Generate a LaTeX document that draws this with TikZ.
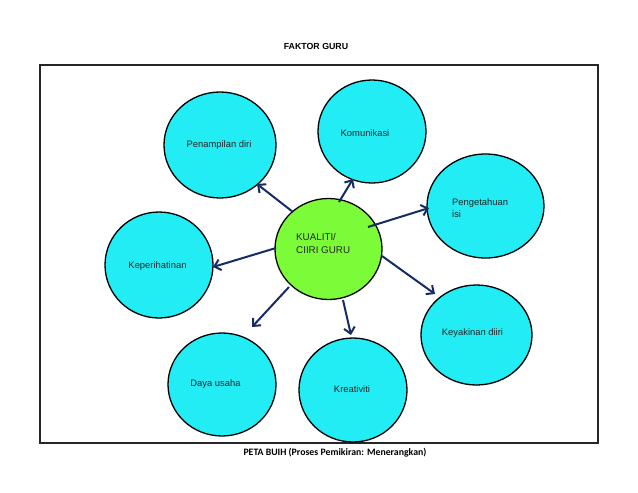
\documentclass[tikz,border=0pt]{standalone}
\usepackage{fontspec}
\setmainfont{Liberation Sans}
\newfontfamily\calibri{Carlito}
\usetikzlibrary{arrows.meta,shapes.geometric}
\definecolor{bubcyan}{RGB}{34,236,244}
\definecolor{bubgreen}{RGB}{124,252,56}
\definecolor{arrnavy}{RGB}{22,42,102}
\tikzset{
  bubble/.style={ellipse, draw=black, line width=1.3pt, inner sep=0pt},
  lbl/.style={font=\fontsize{9.4}{11.5}\selectfont, inner sep=0pt, text=black!85},
  conn/.style={draw=arrnavy, line width=2pt, -{Straight Barb[length=6pt,width=11pt,line width=2pt]}}
}
\begin{document}
\begin{tikzpicture}[x=1pt,y=-1pt]
\useasboundingbox (0,0) rectangle (638,493);
\node[font=\bfseries\fontsize{8.8}{10}\selectfont, inner sep=0pt] (title) at (316,46) {FAKTOR GURU};
\draw[line width=1.4pt, black!85] (40,65) rectangle (598,443);
\node[font=\calibri\bfseries\fontsize{9.8}{11}\selectfont, inner sep=0pt] (foot) at (335,453) {PETA BUIH (Proses Pemikiran: Menerangkan)};

\node[bubble, fill=bubcyan, minimum width=112pt, minimum height=106pt] (pen) at (220,145) {};
\node[bubble, fill=bubcyan, minimum width=108pt, minimum height=103pt] (kom) at (372,131.5) {};
\node[bubble, fill=bubcyan, minimum width=117pt, minimum height=104pt] (pet) at (485.5,206) {};
\node[bubble, fill=bubcyan, minimum width=108pt, minimum height=106pt] (kep) at (159,265) {};
\node[bubble, fill=bubgreen, minimum width=107pt, minimum height=101pt] (kua) at (328.5,249) {};
\node[bubble, fill=bubcyan, minimum width=111pt, minimum height=100pt] (key) at (476.5,335) {};
\node[bubble, fill=bubcyan, minimum width=108pt, minimum height=103pt] (day) at (222,384.5) {};
\node[bubble, fill=bubcyan, minimum width=108pt, minimum height=104pt] (kre) at (353,390) {};

\node[lbl] (tpen) at (219,145) {Penampilan diri};
\node[lbl] (tkom) at (365,133) {Komunikasi};
\node[lbl, anchor=west, align=left] (tpet) at (452,208) {Pengetahuan\\isi};
\node[lbl] (tkep) at (157.5,266) {Keperihatinan};
\node[lbl, anchor=west, align=left, font=\fontsize{9.8}{13}\selectfont] (tkua) at (296,243.5) {KUALITI/\\CIIRI GURU};
\node[lbl] (tkey) at (472.5,333) {Keyakinan diiri};
\node[lbl] (tday) at (215.5,384) {Daya usaha};
\node[lbl] (tkre) at (352,389) {Kreativiti};

\coordinate (s1) at (339,202); \coordinate (e1) at (353,179);
\coordinate (s2) at (293,212); \coordinate (e2) at (257,184);
\coordinate (s3) at (368,227); \coordinate (e3) at (429,208);
\coordinate (s4) at (276,248); \coordinate (e4) at (213,267);
\coordinate (s5) at (382,256); \coordinate (e5) at (435,294);
\coordinate (s6) at (289,287); \coordinate (e6) at (252,327);
\coordinate (s7) at (343,300); \coordinate (e7) at (351,335);
\foreach \i in {1,...,7} { \draw[conn] (s\i) -- (e\i); }
\end{tikzpicture}
\end{document}
